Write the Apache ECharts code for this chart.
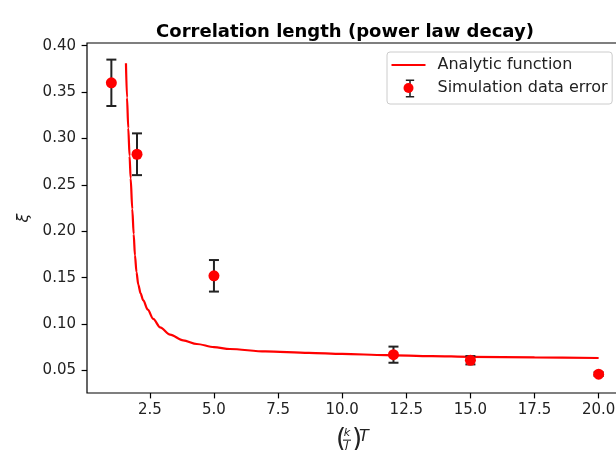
<!DOCTYPE html>
<html><head><meta charset="utf-8">
<script src="https://cdn.jsdelivr.net/npm/echarts@6/dist/echarts.min.js"></script>
<style>html,body{margin:0;padding:0;background:#fff}#c{width:616px;height:450px}</style>
</head><body><div id="c"></div>
<script>
// Simulation data
const simX = [1, 2, 5, 12, 15, 20];
const simY = [0.36, 0.283, 0.152, 0.067, 0.061, 0.046];
const simErr = [0.025, 0.0225, 0.017, 0.0087, 0.0045, 0.002];
const curveX = [1.569, 1.61, 1.66, 1.71, 1.752, 1.816, 1.87, 1.92, 1.98, 2.05, 2.14, 2.245, 2.42, 2.635, 2.9, 3.29, 3.8, 4.33, 5.0, 5.62, 7.0, 8.7, 10.0, 11.7, 13.5, 15.0, 17.5, 20.0];
const curveY = [0.381, 0.344, 0.311, 0.281, 0.257, 0.224, 0.197, 0.174, 0.156, 0.1425, 0.133, 0.1255, 0.1155, 0.1055, 0.0965, 0.0886, 0.0825, 0.0785, 0.0752, 0.0731, 0.0705, 0.0689, 0.0678, 0.0666, 0.0655, 0.0647, 0.064, 0.0634];
// Tick labels
const xTicks = [2.5, 5, 7.5, 10, 12.5, 15, 17.5, 20];
const yTicks = [0.05, 0.10, 0.15, 0.20, 0.25, 0.30, 0.35, 0.40];

const FONT = 'DejaVu Sans';
const TXT = '#222';
const chart = echarts.init(document.getElementById('c'), null, {renderer: 'canvas'});

const curveData = curveX.map((x, i) => [x, curveY[i]]);
const simData = simX.map((x, i) => [x, simY[i]]);
const errData = simX.map((x, i) => [x, simY[i] - simErr[i], simY[i] + simErr[i]]);

const option = {
  animation: false,
  backgroundColor: '#fff',
  title: {
    text: 'Correlation length (power law decay)',
    left: 340, top: 18, textAlign: 'center',
    textStyle: {fontFamily: FONT, fontSize: 18, fontWeight: 'bold', color: '#000'}
  },
  grid: {
    left: 87, top: 43, width: 536, height: 350,
    show: true, borderColor: '#000', borderWidth: 1.2, backgroundColor: 'transparent',
    containLabel: false, outerBoundsMode: 'none'
  },
  xAxis: {
    type: 'value', min: 0.05, max: 20.95,
    axisLine: {show: false},
    axisTick: {show: true, length: 5.4, customValues: xTicks, lineStyle: {color: '#000', width: 1.2}},
    axisLabel: {customValues: xTicks, margin: 9.5, formatter: v => v.toFixed(1),
      fontFamily: FONT, fontSize: 15, color: TXT},
    splitLine: {show: false}
  },
  yAxis: {
    type: 'value', min: 0.0257, max: 0.4029,
    name: '\u03be', nameLocation: 'middle', nameRotate: 90, nameGap: 55,
    nameTextStyle: {fontFamily: FONT, fontSize: 16, fontStyle: 'italic', color: TXT},
    axisLine: {show: false},
    axisTick: {show: true, length: 5.4, customValues: yTicks, lineStyle: {color: '#000', width: 1.2}},
    axisLabel: {customValues: yTicks, margin: 11, formatter: v => v.toFixed(2),
      fontFamily: FONT, fontSize: 15, color: TXT},
    splitLine: {show: false}
  },
  legend: [
    {
      orient: 'vertical', left: 387, top: 52, padding: [5, 4.5, 8, 4.5],
      itemWidth: 34, itemHeight: 10, itemGap: 7,
      borderColor: '#cccccc', borderWidth: 1, borderRadius: 3, backgroundColor: 'transparent',
      selectedMode: false, z: 4,
      textStyle: {fontFamily: FONT, fontSize: 16, color: TXT, lineHeight: 16, padding: [0, 0, 0, 7]},
      data: [
        {name: 'Analytic function', icon: 'path://M0,0H34V2.2H0Z', itemStyle: {color: '#ff0000'}},
        {name: 'Simulation data error', icon: 'circle'}
      ]
    },
    {
      orient: 'vertical', left: 393, top: 79.5, padding: 0,
      itemWidth: 34, itemHeight: 18, selectedMode: false, z: 3,
      formatter: () => '',
      textStyle: {fontSize: 1},
      data: [{name: 'Simulation data error',
        icon: 'path://M0,0H8V1.5H4.75V15.8H8V17.3H0V15.8H3.25V1.5H0Z',
        itemStyle: {color: '#222'}}]
    }
  ],
  graphic: [
    {type: 'text', x: 336, y: 440, style: {text: '(', font: '26px "DejaVu Sans"', fill: TXT, textVerticalAlign: 'middle'}},
    {type: 'text', x: 347, y: 433.5, style: {text: 'k', font: 'italic 11.2px "DejaVu Sans"', fill: TXT, textAlign: 'center', textVerticalAlign: 'middle'}},
    {type: 'rect', shape: {x: 343, y: 439.6, width: 8, height: 1.1}, style: {fill: TXT}},
    {type: 'text', x: 347, y: 446, style: {text: 'J', font: 'italic 11.2px "DejaVu Sans"', fill: TXT, textAlign: 'center', textVerticalAlign: 'middle'}},
    {type: 'text', x: 352, y: 440, style: {text: ')', font: '26px "DejaVu Sans"', fill: TXT, textVerticalAlign: 'middle'}},
    {type: 'text', x: 359, y: 437, style: {text: 'T', font: 'italic 16px "DejaVu Sans"', fill: TXT, textVerticalAlign: 'middle'}}
  ],
  series: [
    {
      name: 'Analytic function', type: 'line', data: curveData,
      symbol: 'none', smooth: 0.3, smoothMonotone: 'x', clip: true, z: 2,
      lineStyle: {color: '#ff0000', width: 2.2}, itemStyle: {color: '#ff0000'}
    },
    {
      name: 'errbar', type: 'custom', data: errData, z: 3, clip: true,
      renderItem: function (params, api) {
        const x = api.value(0);
        const lo = api.coord([x, api.value(1)]);
        const hi = api.coord([x, api.value(2)]);
        const cw = 5;
        const st = {stroke: '#222', lineWidth: 2};
        return {type: 'group', children: [
          {type: 'line', shape: {x1: lo[0], y1: lo[1], x2: hi[0], y2: hi[1]}, style: st},
          {type: 'line', shape: {x1: lo[0] - cw, y1: lo[1], x2: lo[0] + cw, y2: lo[1]}, style: st},
          {type: 'line', shape: {x1: hi[0] - cw, y1: hi[1], x2: hi[0] + cw, y2: hi[1]}, style: st}
        ]};
      }
    },
    {
      name: 'Simulation data error', type: 'scatter', data: simData,
      symbol: 'circle', symbolSize: 11, z: 4,
      itemStyle: {color: '#ff0000', opacity: 1}
    }
  ]
};
chart.setOption(option);
</script>
</body></html>
